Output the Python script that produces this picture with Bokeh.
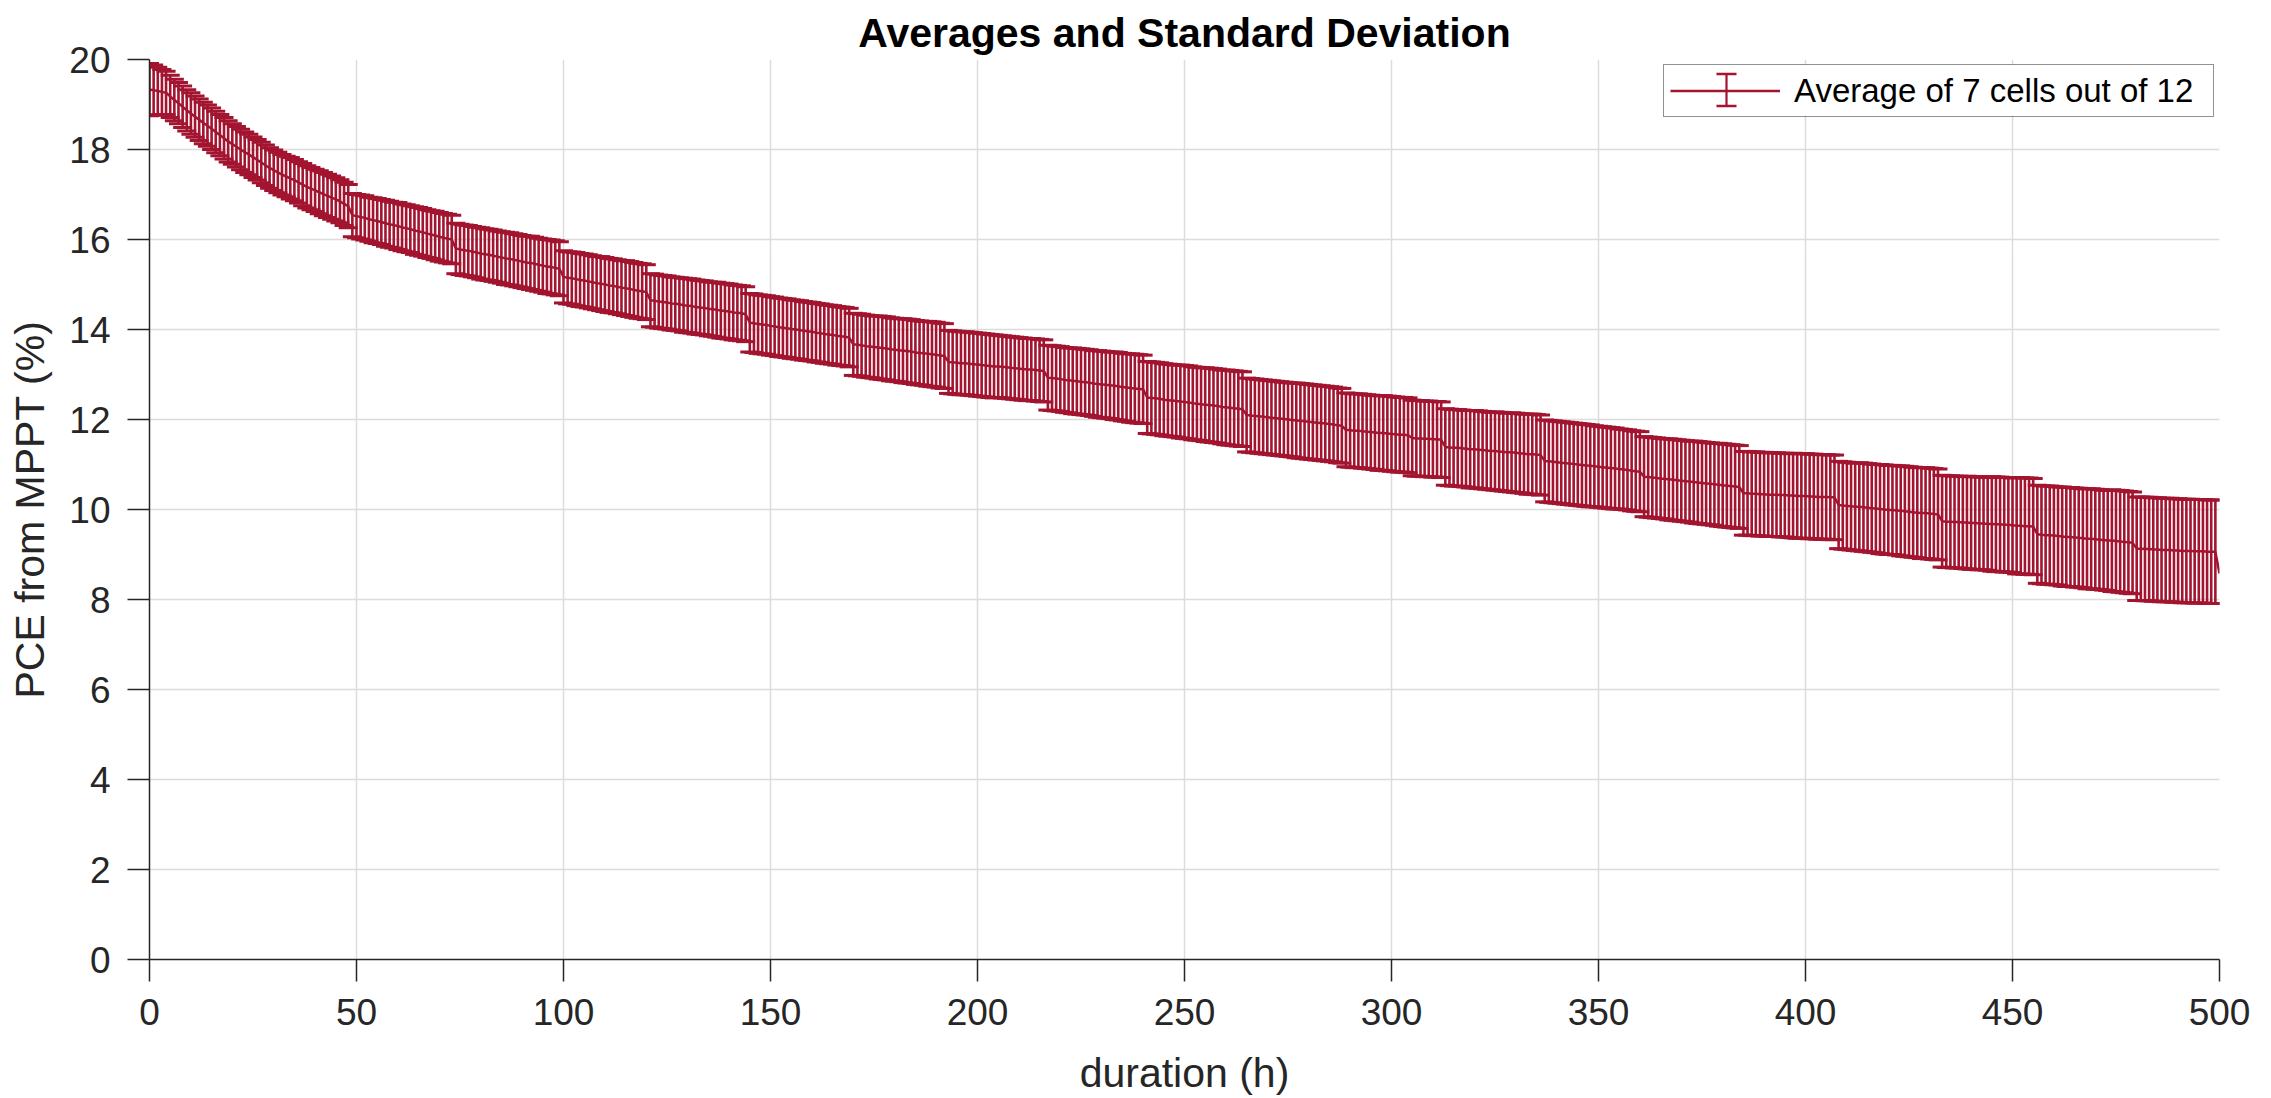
import math
from bokeh.plotting import figure
from bokeh.models import ColumnDataSource, Range1d, FixedTicker, Legend, LegendItem
from bokeh.embed import file_html
from bokeh.resources import INLINE

# ---------------- data ----------------
hours = list(range(0, 501))

pce_mean = [
    # 0-48
    19.33, 19.32, 19.30, 19.28, 19.26, 19.18, 19.10, 19.03, 18.95, 18.87,
    18.80, 18.73, 18.66, 18.59, 18.53, 18.46, 18.39, 18.32, 18.25, 18.18,
    18.12, 18.06, 18.00, 17.94, 17.89, 17.83, 17.77, 17.71, 17.65, 17.59,
    17.54, 17.49, 17.44, 17.40, 17.36, 17.32, 17.27, 17.22, 17.17, 17.13,
    17.09, 17.05, 17.01, 16.97, 16.93, 16.89, 16.85, 16.79, 16.74,
    # 49-73
    16.54, 16.52, 16.50, 16.48, 16.45, 16.43, 16.41, 16.39, 16.36, 16.34,
    16.32, 16.30, 16.27, 16.25, 16.23, 16.20, 16.18, 16.16, 16.13, 16.11,
    16.09, 16.06, 16.04, 16.02, 16.00,
    # 74-99
    15.80, 15.78, 15.76, 15.75, 15.73, 15.71, 15.69, 15.67, 15.66, 15.64,
    15.62, 15.60, 15.58, 15.57, 15.55, 15.53, 15.51, 15.49, 15.48, 15.46,
    15.44, 15.42, 15.40, 15.39, 15.37, 15.35,
    # 100-120
    15.17, 15.15, 15.14, 15.12, 15.10, 15.09, 15.07, 15.05, 15.03, 15.02,
    15.00, 14.98, 14.97, 14.95, 14.93, 14.92, 14.90, 14.88, 14.86, 14.85,
    14.83,
    # 121-144
    14.65, 14.64, 14.62, 14.61, 14.60, 14.58, 14.57, 14.56, 14.54, 14.53,
    14.52, 14.50, 14.49, 14.48, 14.46, 14.45, 14.44, 14.42, 14.41, 14.40,
    14.38, 14.37, 14.36, 14.34,
    # 145-169
    14.15, 14.14, 14.12, 14.11, 14.10, 14.08, 14.07, 14.05, 14.04, 14.03,
    14.01, 14.00, 13.99, 13.97, 13.96, 13.95, 13.93, 13.92, 13.90, 13.89,
    13.88, 13.86, 13.85, 13.84, 13.82,
    # 170-192
    13.67, 13.66, 13.65, 13.63, 13.62, 13.61, 13.60, 13.59, 13.58, 13.56,
    13.55, 13.54, 13.53, 13.52, 13.51, 13.49, 13.48, 13.47, 13.46, 13.45,
    13.44, 13.42, 13.41,
    # 193-216
    13.28, 13.27, 13.26, 13.25, 13.25, 13.24, 13.23, 13.22, 13.21, 13.20,
    13.19, 13.18, 13.18, 13.17, 13.16, 13.15, 13.14, 13.13, 13.12, 13.11,
    13.11, 13.10, 13.09, 13.08,
    # 217-240
    12.93, 12.92, 12.91, 12.90, 12.88, 12.87, 12.86, 12.85, 12.84, 12.83,
    12.82, 12.80, 12.79, 12.78, 12.77, 12.76, 12.75, 12.74, 12.72, 12.71,
    12.70, 12.69, 12.68, 12.67,
    # 241-264
    12.49, 12.48, 12.47, 12.46, 12.44, 12.43, 12.42, 12.41, 12.40, 12.39,
    12.38, 12.36, 12.35, 12.34, 12.33, 12.32, 12.31, 12.30, 12.28, 12.27,
    12.26, 12.25, 12.24, 12.23,
    # 265-288
    12.10, 12.09, 12.08, 12.07, 12.06, 12.05, 12.04, 12.03, 12.02, 12.01,
    12.00, 11.99, 11.98, 11.97, 11.96, 11.95, 11.94, 11.93, 11.92, 11.91,
    11.90, 11.89, 11.87, 11.86,
    # 289-304
    11.77, 11.76, 11.75, 11.75, 11.74, 11.73, 11.72, 11.71, 11.70, 11.70,
    11.69, 11.68, 11.67, 11.66, 11.66, 11.65,
    # 305-312
    11.59, 11.58, 11.58, 11.57, 11.57, 11.56, 11.56, 11.55,
    # 313-336
    11.39, 11.38, 11.37, 11.37, 11.36, 11.35, 11.34, 11.34, 11.33, 11.32,
    11.31, 11.30, 11.30, 11.29, 11.28, 11.27, 11.27, 11.26, 11.25, 11.24,
    11.23, 11.23, 11.22, 11.21,
    # 337-360
    11.08, 11.07, 11.06, 11.05, 11.04, 11.03, 11.02, 11.01, 11.00, 10.99,
    10.98, 10.97, 10.96, 10.95, 10.94, 10.93, 10.92, 10.91, 10.90, 10.89,
    10.88, 10.86, 10.85, 10.84,
    # 361-384
    10.73, 10.72, 10.71, 10.70, 10.69, 10.68, 10.67, 10.66, 10.65, 10.64,
    10.63, 10.62, 10.61, 10.60, 10.59, 10.58, 10.57, 10.56, 10.55, 10.54,
    10.53, 10.52, 10.51, 10.50,
    # 385-407
    10.36, 10.36, 10.35, 10.35, 10.34, 10.34, 10.33, 10.33, 10.33, 10.32,
    10.32, 10.31, 10.31, 10.30, 10.30, 10.30, 10.29, 10.29, 10.28, 10.28,
    10.28, 10.27, 10.27,
    # 408-432
    10.10, 10.09, 10.08, 10.07, 10.06, 10.06, 10.05, 10.04, 10.03, 10.02,
    10.01, 10.00, 9.99, 9.99, 9.98, 9.97, 9.96, 9.95, 9.94, 9.93,
    9.92, 9.92, 9.91, 9.90, 9.89,
    # 433-455
    9.74, 9.73, 9.73, 9.72, 9.72, 9.71, 9.71, 9.70, 9.70, 9.69,
    9.69, 9.68, 9.68, 9.67, 9.67, 9.66, 9.66, 9.65, 9.64, 9.64,
    9.63, 9.63, 9.62,
    # 456-479
    9.45, 9.44, 9.43, 9.43, 9.42, 9.41, 9.40, 9.39, 9.39, 9.38,
    9.37, 9.36, 9.35, 9.35, 9.34, 9.33, 9.32, 9.31, 9.31, 9.30,
    9.29, 9.28, 9.27, 9.26,
    # 480-500
    9.13, 9.13, 9.12, 9.12, 9.11, 9.11, 9.10, 9.10, 9.10, 9.09,
    9.09, 9.08, 9.08, 9.08, 9.07, 9.07, 9.07, 9.06, 9.06, 9.06,
    8.58,
]

NAN = float("nan")
pce_std = [
    # 0-48
    0.58, 0.56, 0.53, 0.50, 0.48, 0.47, 0.46, 0.46, 0.46, 0.46,
    0.46, 0.46, 0.46, 0.46, 0.46, 0.46, 0.46, 0.46, 0.46, 0.46,
    0.45, 0.45, 0.45, 0.45, 0.45, 0.45, 0.45, 0.45, 0.45, 0.45,
    0.45, 0.45, 0.45, 0.45, 0.46, 0.46, 0.46, 0.47, 0.47, 0.47,
    0.47, 0.48, 0.48, 0.48, 0.48, 0.48, 0.48, 0.48, 0.48,
    # 49-73
    0.48, 0.48, 0.49, 0.49, 0.49, 0.50, 0.50, 0.50, 0.51, 0.51,
    0.51, 0.52, 0.52, 0.52, 0.52, 0.53, 0.53, 0.53, 0.53, 0.53,
    0.54, 0.54, 0.54, 0.54, 0.54,
    # 74-99
    0.56, 0.56, 0.56, 0.56, 0.56, 0.56, 0.57, 0.57, 0.57, 0.57,
    0.57, 0.57, 0.58, 0.58, 0.58, 0.58, 0.58, 0.58, 0.59, 0.59,
    0.59, 0.59, 0.60, 0.60, 0.60, 0.60,
    # 100-120
    0.58, 0.58, 0.58, 0.59, 0.59, 0.59, 0.59, 0.59, 0.59, 0.60,
    0.60, 0.60, 0.60, 0.60, 0.60, 0.61, 0.61, 0.61, 0.61, 0.61,
    0.61,
    # 121-144
    0.59, 0.59, 0.59, 0.59, 0.59, 0.59, 0.59, 0.59, 0.60, 0.60,
    0.60, 0.60, 0.60, 0.60, 0.60, 0.60, 0.61, 0.61, 0.61, 0.61,
    0.61, 0.61, 0.61, 0.61,
    # 145-169
    0.65, 0.65, 0.65, 0.65, 0.65, 0.65, 0.65, 0.65, 0.65, 0.65,
    0.65, 0.65, 0.65, 0.65, 0.65, 0.65, 0.65, 0.65, 0.65, 0.65,
    0.65, 0.65, 0.65, 0.65, 0.65,
    # 170-192
    0.69, 0.69, 0.69, 0.69, 0.69, 0.69, 0.70, 0.70, 0.70, 0.70,
    0.70, 0.70, 0.71, 0.71, 0.71, 0.71, 0.71, 0.71, 0.72, 0.72,
    0.72, 0.72, 0.72,
    # 193-216
    0.70, 0.70, 0.70, 0.70, 0.70, 0.70, 0.70, 0.70, 0.70, 0.70,
    0.70, 0.70, 0.69, 0.69, 0.69, 0.69, 0.69, 0.69, 0.69, 0.69,
    0.69, 0.69, 0.69, 0.69,
    # 217-240
    0.72, 0.72, 0.72, 0.72, 0.72, 0.72, 0.73, 0.73, 0.73, 0.73,
    0.73, 0.73, 0.74, 0.74, 0.74, 0.74, 0.75, 0.75, 0.75, 0.75,
    0.76, 0.76, 0.76, 0.76,
    # 241-264
    0.80, 0.80, 0.80, 0.80, 0.80, 0.80, 0.80, 0.80, 0.81, 0.81,
    0.81, 0.81, 0.81, 0.81, 0.82, 0.82, 0.82, 0.82, 0.82, 0.83,
    0.83, 0.83, 0.83, 0.83,
    # 265-288
    0.82, 0.82, 0.82, 0.82, 0.82, 0.82, 0.82, 0.82, 0.82, 0.82,
    0.82, 0.82, 0.83, 0.83, 0.83, 0.83, 0.83, 0.83, 0.83, 0.83,
    0.83, 0.83, 0.83, 0.83,
    # 289-304
    0.82, 0.82, 0.82, 0.82, 0.82, 0.82, 0.82, 0.82, 0.83, 0.83,
    0.83, 0.83, 0.83, 0.83, 0.83, 0.83,
    # 305-312
    0.84, 0.84, 0.84, 0.84, 0.84, 0.84, 0.84, 0.84,
    # 313-336
    0.85, 0.85, 0.85, 0.85, 0.85, 0.85, 0.86, 0.86, 0.86, 0.86,
    0.86, 0.86, 0.87, 0.87, 0.87, 0.87, 0.88, 0.88, 0.88, 0.88,
    0.89, 0.89, 0.89, 0.89,
    # 337-360
    0.91, 0.91, 0.91, 0.91, 0.91, 0.91, 0.91, 0.91, 0.91, 0.91,
    0.91, 0.91, 0.90, 0.90, 0.90, 0.90, 0.90, 0.90, 0.89, 0.89,
    0.89, 0.89, 0.89, 0.89,
    # 361-384
    0.89, 0.89, 0.89, 0.89, 0.89, 0.89, 0.90, 0.90, 0.90, 0.90,
    0.90, 0.90, 0.91, 0.91, 0.91, 0.91, 0.91, 0.91, 0.92, 0.92,
    0.92, 0.92, 0.92, 0.92,
    # 385-407
    0.93, 0.93, 0.93, 0.93, 0.93, 0.93, 0.93, 0.93, 0.93, 0.93,
    0.93, 0.93, 0.94, 0.94, 0.94, 0.94, 0.94, 0.94, 0.94, 0.94,
    0.94, 0.94, 0.94,
    # 408-432
    0.97, 0.97, 0.97, 0.97, 0.97, 0.98, 0.98, 0.98, 0.98, 0.98,
    0.99, 0.99, 0.99, 0.99, 0.99, 1.00, 1.00, 1.00, 1.00, 1.00,
    1.01, 1.01, 1.01, 1.01, 1.01,
    # 433-455
    1.02, 1.02, 1.02, 1.02, 1.02, 1.02, 1.03, 1.03, 1.03, 1.03,
    1.03, 1.03, 1.05, 1.05, 1.05, 1.05, 1.05, 1.05, 1.07, 1.07,
    1.07, 1.07, 1.07,
    # 456-479
    1.09, 1.09, 1.09, 1.09, 1.09, 1.09, 1.10, 1.10, 1.10, 1.10,
    1.10, 1.10, 1.11, 1.11, 1.11, 1.11, 1.11, 1.11, 1.13, 1.13,
    1.13, 1.13, 1.13, 1.13,
    # 480-500
    1.15, 1.15, 1.15, 1.15, 1.15, 1.15, 1.15, 1.15, 1.15, 1.15,
    1.15, 1.15, 1.15, 1.15, 1.15, 1.15, 1.15, 1.15, 1.15, 1.15,
    NAN,
]

x_ticks = [0, 50, 100, 150, 200, 250, 300, 350, 400, 450, 500]
y_ticks = [0, 2, 4, 6, 8, 10, 12, 14, 16, 18, 20]
title_text = "Averages and Standard Deviation"
x_label = "duration (h)"
y_label = "PCE from MPPT (%)"
legend_label = "Average of 7 cells out of 12"

assert len(pce_mean) == len(hours), len(pce_mean)
assert len(pce_std) == len(hours), len(pce_std)

# ---------------- style / layout ----------------
RED = "#A2142F"
TXT = "#262626"
GRID = "#dcdcdc"
FONT = "Liberation Sans"

W, H = 2271, 1098
FL, FR, FT, FB = 149, 2219, 59, 959   # frame edges in page pixels

bx, lo, hi = [], [], []
for h, m, s in zip(hours, pce_mean, pce_std):
    if not math.isnan(s):
        bx.append(h)
        lo.append(m - s)
        hi.append(m + s)
bars = ColumnDataSource(dict(x=bx, lo=lo, hi=hi))
line_src = ColumnDataSource(dict(x=hours, y=pce_mean))

p = figure(width=W, height=H, output_backend="svg", toolbar_location=None,
           x_range=Range1d(0, 500), y_range=Range1d(0, 20),
           min_border_left=FL, min_border_right=W - FR,
           min_border_top=FT, min_border_bottom=H - FB)
p.outline_line_color = None
p.background_fill_color = "white"
p.border_fill_color = "white"

p.segment(x0="x", y0="lo", x1="x", y1="hi", source=bars,
          line_color=RED, line_width=2.6)
p.scatter(x="x", y="lo", source=bars, marker="dash", size=19,
          line_color=RED, line_width=3)
p.scatter(x="x", y="hi", source=bars, marker="dash", size=19,
          line_color=RED, line_width=3)
mean_r = p.line(x="x", y="y", source=line_src, line_color=RED, line_width=2.5)

# axes
p.xaxis.ticker = FixedTicker(ticks=x_ticks)
p.yaxis.ticker = FixedTicker(ticks=y_ticks)
p.xgrid.ticker = FixedTicker(ticks=x_ticks)
p.ygrid.ticker = FixedTicker(ticks=y_ticks)
for ax in (p.xaxis[0], p.yaxis[0]):
    ax.axis_line_color = TXT
    ax.axis_line_width = 1.5
    ax.major_tick_line_color = TXT
    ax.major_tick_line_width = 1.5
    ax.major_tick_out = 22
    ax.major_tick_in = 0
    ax.minor_tick_line_color = None
    ax.major_label_text_font = FONT
    ax.major_label_text_font_size = "37px"
    ax.major_label_text_color = TXT
    ax.axis_label_text_font = FONT
    ax.axis_label_text_font_size = "41px"
    ax.axis_label_text_font_style = "normal"
    ax.axis_label_text_color = TXT
p.xaxis.axis_label = x_label
p.yaxis.axis_label = y_label
p.xaxis.major_label_standoff = 17
p.yaxis.major_label_standoff = 17
p.xaxis.axis_label_standoff = 22
p.yaxis.axis_label_standoff = 13

for g in (p.xgrid[0], p.ygrid[0]):
    g.grid_line_color = GRID
    g.grid_line_width = 1.5

# title
p.title.text = title_text
p.title.align = "center"
p.title.vertical_align = "top"
p.title.text_font = FONT
p.title.text_font_size = "41px"
p.title.text_font_style = "bold"
p.title.text_color = "#000000"
p.title.standoff = 4

# legend (transparent background; a white patch and the error-bar icon are drawn beneath it)
L_MARGIN, L_PAD, L_GW, L_GH, L_STAND, L_LW = 5, 6, 110, 39, 14, 413
legend = Legend(items=[LegendItem(label=legend_label, renderers=[mean_r])],
                location="top_right", margin=L_MARGIN, padding=L_PAD, spacing=0,
                glyph_width=L_GW, glyph_height=L_GH, label_height=L_GH,
                label_width=L_LW, label_standoff=L_STAND,
                border_line_color=TXT, border_line_width=1.5,
                background_fill_alpha=0.0,
                label_text_font=FONT, label_text_font_size="33px",
                label_text_color="#000000")
p.add_layout(legend)

sx = 500 / (FR - FL)
sy = 20 / (FB - FT)
leg_w = 2 * L_PAD + L_GW + L_STAND + L_LW
leg_h = 2 * L_PAD + L_GH
leg_right = FR - L_MARGIN
leg_left = leg_right - leg_w
leg_top = FT + L_MARGIN
leg_bot = leg_top + leg_h
patch = ColumnDataSource(dict(l=[(leg_left - FL) * sx], r=[(leg_right - FL) * sx],
                              t=[(FB - leg_top) * sy], b=[(FB - leg_bot) * sy]))
p.quad(left="l", right="r", top="t", bottom="b", source=patch,
       fill_color="white", line_color=None)

icon_px = leg_left + L_PAD + L_GW / 2
icon_cy = leg_top + L_PAD + L_GH / 2
ix = (icon_px - FL) * sx
icon = ColumnDataSource(dict(x=[ix], lo=[(FB - (icon_cy + 16)) * sy],
                             hi=[(FB - (icon_cy - 16)) * sy]))
p.segment(x0="x", y0="lo", x1="x", y1="hi", source=icon, line_color=RED, line_width=2.2)
p.scatter(x="x", y="lo", source=icon, marker="dash", size=20, line_color=RED, line_width=2.6)
p.scatter(x="x", y="hi", source=icon, marker="dash", size=20, line_color=RED, line_width=2.6)

open("out.html", "w").write(file_html(p, INLINE))
